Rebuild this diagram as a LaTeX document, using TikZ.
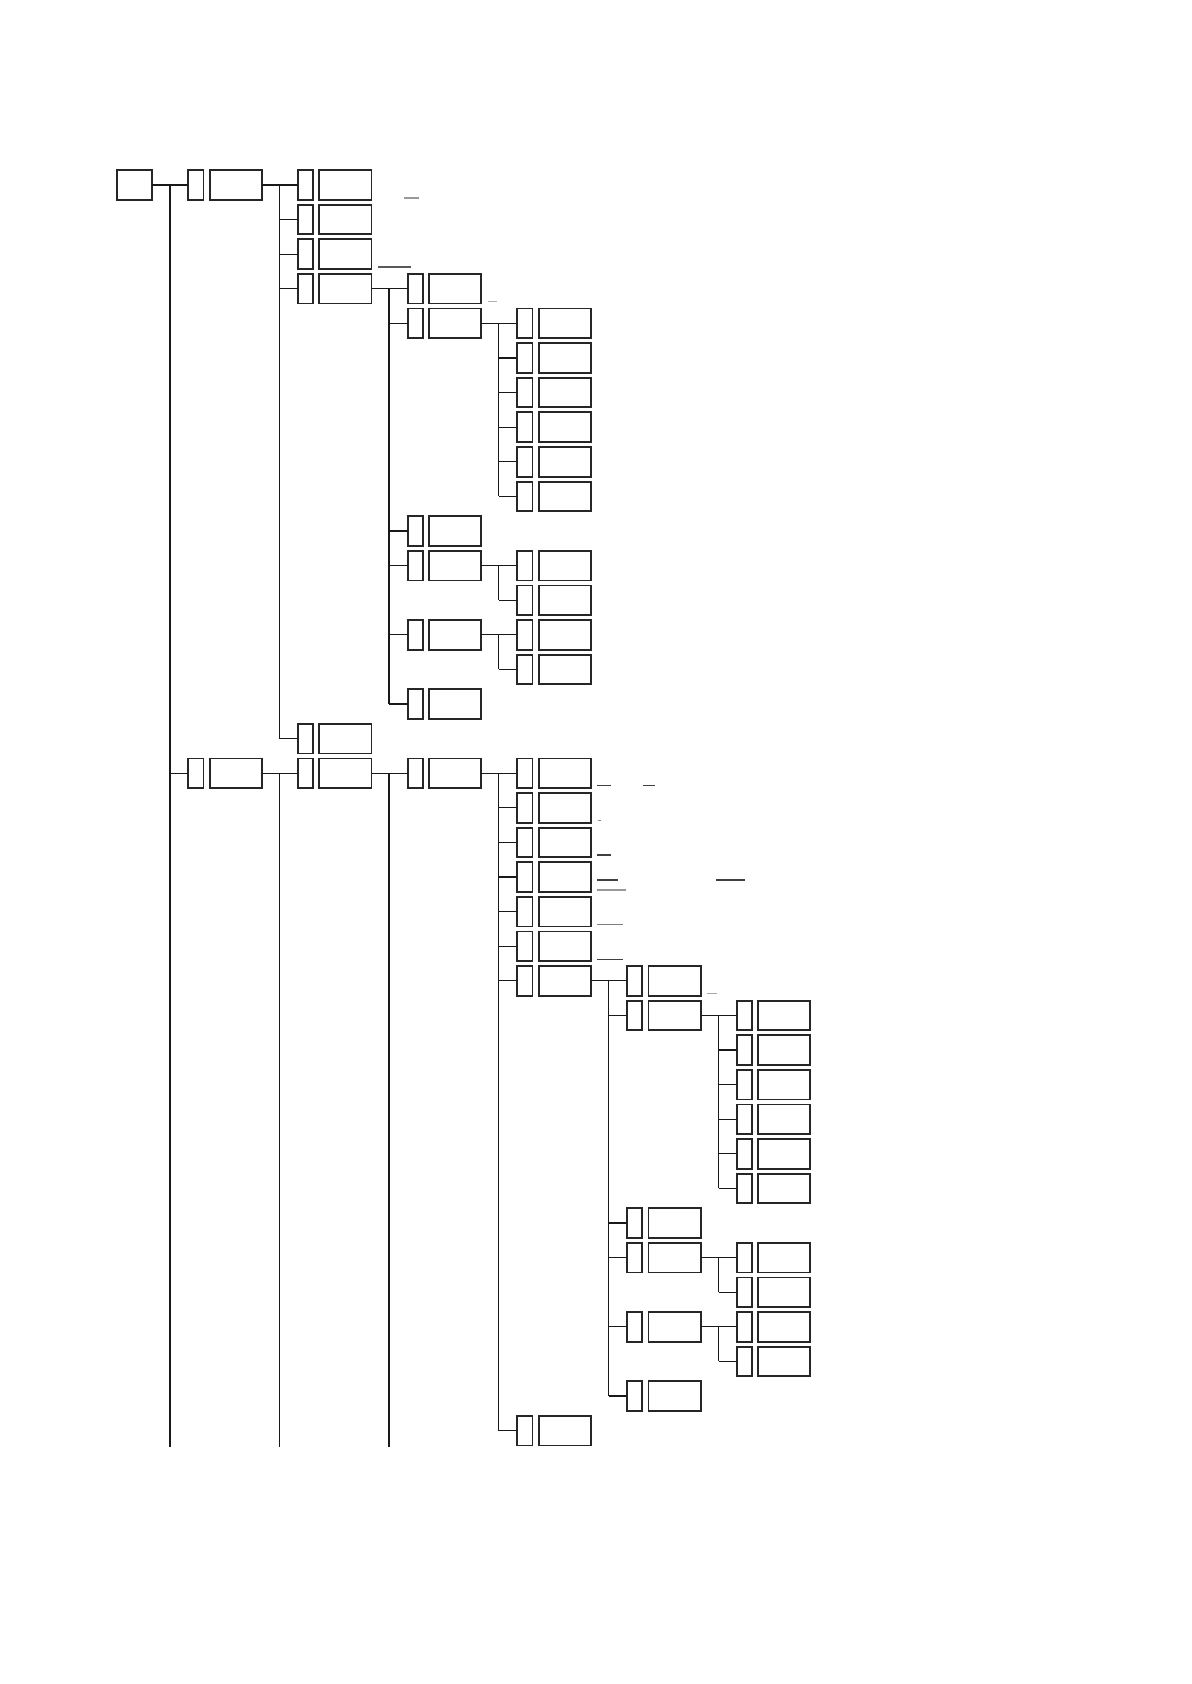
\documentclass[tikz,border=0pt]{standalone}
\tikzset{
 boxbase/.style={draw=black!85, line width=0.9pt, rectangle, inner sep=0pt, outer sep=0pt, anchor=north west, minimum height=14.8pt},
 sbox/.style={boxbase, minimum width=7.6pt},
 bbox/.style={boxbase, minimum width=26.1pt},
 rbox/.style={boxbase, minimum width=17.45pt},
 conn/.style={draw=black!90, line width=0.65pt},
 trace/.style={line width=0.55pt},
}
\newcommand\mkpair[3]{%
  \pgfmathsetmacro\px{187.3+(#2-1)*109.7}%
  \pgfmathsetmacro\py{169.3+34.6*(#3)}%
  \node[sbox] (#1s) at (\px+0.9,\py+0.9) {};
  \node[bbox] (#1b) at (\px+22.3,\py+0.9) {};}
\newcommand\kid[2]{\draw[conn] (#1s.west -| v#2) -- (#1s.west);}
\newcommand\firstkid[2]{\draw[conn] (#1b.east) -- (#2s.west);}
\newcommand\trunk[3]{\draw[conn] (#1s.west -| v#3) -- (#2s.west -| v#3);}
\begin{document}
\begin{tikzpicture}[x=0.5pt,y=-0.5pt]
\useasboundingbox (0,0) rectangle (1191,1684);
\coordinate (v1) at (170,0);
\coordinate (v2) at (279.4,0);
\coordinate (v3) at (389.1,0);
\coordinate (v4) at (498.8,0);
\coordinate (v5) at (608.6,0);
\coordinate (v6) at (718.6,0);
\coordinate (bot) at (0,1446.7);
% root
\node[rbox] (R) at (116.9,170.2) {};
% level 1
\mkpair{A}{1}{0}
\mkpair{B}{1}{17}
% level 2
\mkpair{A1}{2}{0}
\mkpair{A2}{2}{1}
\mkpair{A3}{2}{2}
\mkpair{A4}{2}{3}
\mkpair{A5}{2}{16}
\mkpair{B1}{2}{17}
% level 3
\mkpair{C1}{3}{3}
\mkpair{C2}{3}{4}
\mkpair{C3}{3}{10}
\mkpair{C4}{3}{11}
\mkpair{C5}{3}{13}
\mkpair{C6}{3}{15}
\mkpair{D1}{3}{17}
% level 4
\mkpair{E1}{4}{4}
\mkpair{E2}{4}{5}
\mkpair{E3}{4}{6}
\mkpair{E4}{4}{7}
\mkpair{E5}{4}{8}
\mkpair{E6}{4}{9}
\mkpair{F1}{4}{11}
\mkpair{F2}{4}{12}
\mkpair{G1}{4}{13}
\mkpair{G2}{4}{14}
\mkpair{H1}{4}{17}
\mkpair{H2}{4}{18}
\mkpair{H3}{4}{19}
\mkpair{H4}{4}{20}
\mkpair{H5}{4}{21}
\mkpair{H6}{4}{22}
\mkpair{H7}{4}{23}
\mkpair{H8}{4}{36}
% level 5
\mkpair{I1}{5}{23}
\mkpair{I2}{5}{24}
\mkpair{I3}{5}{30}
\mkpair{I4}{5}{31}
\mkpair{I5}{5}{33}
\mkpair{I6}{5}{35}
% level 6
\mkpair{J1}{6}{24}
\mkpair{J2}{6}{25}
\mkpair{J3}{6}{26}
\mkpair{J4}{6}{27}
\mkpair{J5}{6}{28}
\mkpair{J6}{6}{29}
\mkpair{K1}{6}{31}
\mkpair{K2}{6}{32}
\mkpair{M1}{6}{33}
\mkpair{M2}{6}{34}
% connectors
\draw[conn] (R.east) -- (As.west);
\draw[conn] (As.west -| v1) -- (bot -| v1);
\kid{B}{1}
\firstkid{A}{A1} \trunk{A1}{A5}{2}
\kid{A2}{2} \kid{A3}{2} \kid{A4}{2} \kid{A5}{2}
\firstkid{B}{B1}
\draw[conn] (B1s.west -| v2) -- (bot -| v2);
\firstkid{A4}{C1} \trunk{C1}{C6}{3}
\kid{C2}{3} \kid{C3}{3} \kid{C4}{3} \kid{C5}{3} \kid{C6}{3}
\firstkid{B1}{D1}
\draw[conn] (D1s.west -| v3) -- (bot -| v3);
\firstkid{C2}{E1} \trunk{E1}{E6}{4}
\kid{E2}{4} \kid{E3}{4} \kid{E4}{4} \kid{E5}{4} \kid{E6}{4}
\firstkid{C4}{F1} \trunk{F1}{F2}{4} \kid{F2}{4}
\firstkid{C5}{G1} \trunk{G1}{G2}{4} \kid{G2}{4}
\firstkid{D1}{H1} \trunk{H1}{H8}{4}
\kid{H2}{4} \kid{H3}{4} \kid{H4}{4} \kid{H5}{4} \kid{H6}{4} \kid{H7}{4} \kid{H8}{4}
\firstkid{H7}{I1} \trunk{I1}{I6}{5}
\kid{I2}{5} \kid{I3}{5} \kid{I4}{5} \kid{I5}{5} \kid{I6}{5}
\firstkid{I2}{J1} \trunk{J1}{J6}{6}
\kid{J2}{6} \kid{J3}{6} \kid{J4}{6} \kid{J5}{6} \kid{J6}{6}
\firstkid{I4}{K1} \trunk{K1}{K2}{6} \kid{K2}{6}
\firstkid{I5}{M1} \trunk{M1}{M2}{6} \kid{M2}{6}
% faint short strokes
\draw[trace, draw=black!40] (404,198) -- (419,198);
\draw[trace, draw=black!65] (378,267) -- (410.7,267);
\draw[trace, draw=black!30] (488,301.7) -- (497.3,301.7);
\draw[trace, draw=black!75] (597.3,785.7) -- (611,785.7);
\draw[trace, draw=black!75] (642.7,785.7) -- (654.7,785.7);
\draw[trace, draw=black!45] (597.7,820.7) -- (600.7,820.7);
\draw[trace, draw=black!75] (597.3,855) -- (611,855);
\draw[trace, draw=black!75] (597.3,880) -- (617.7,880);
\draw[trace, draw=black!75] (716.3,880) -- (745,880);
\draw[trace, draw=black!40] (597.3,890) -- (626,890);
\draw[trace, draw=black!50] (597.3,924.3) -- (622.7,924.3);
\draw[trace, draw=black!75] (597.3,959.3) -- (622.7,959.3);
\draw[trace, draw=black!35] (707.3,993.7) -- (716.7,993.7);
\end{tikzpicture}
\end{document}
